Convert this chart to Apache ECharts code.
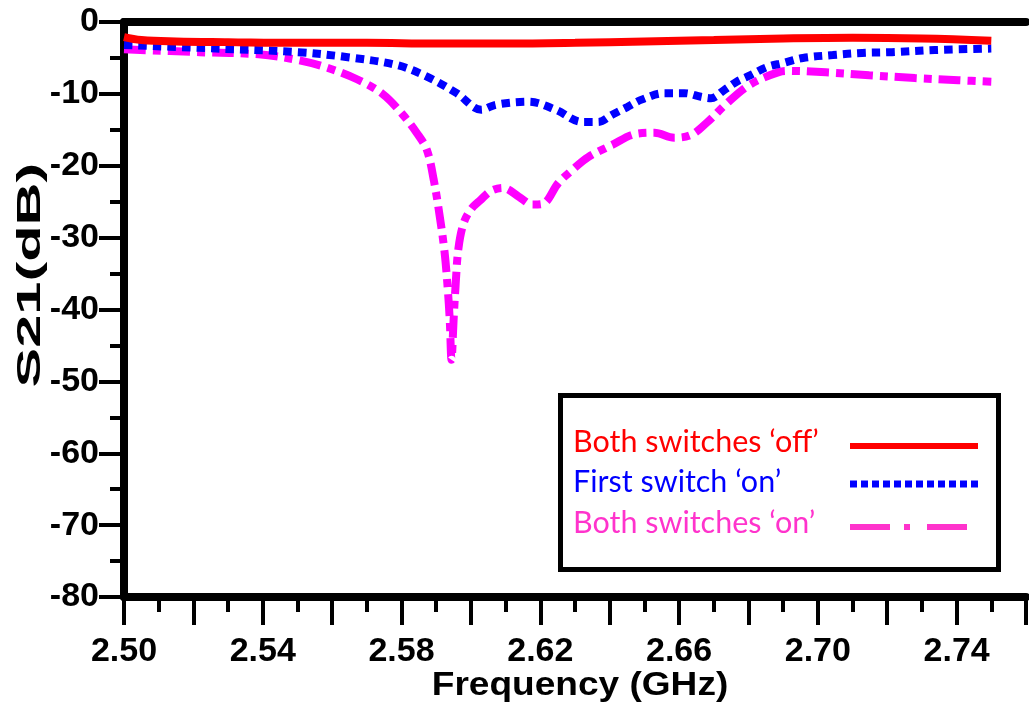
<!DOCTYPE html>
<html>
<head>
<meta charset="utf-8">
<script src="https://cdn.jsdelivr.net/npm/echarts@6/dist/echarts.min.js"></script>
<style>
  html, body { margin: 0; padding: 0; background: #ffffff; }
  #chart { width: 1029px; height: 713px; }
</style>
</head>
<body>
<div id="chart"></div>
<script>
// Measured transmission S21 (dB) versus frequency (GHz) for three switch states
const freqOff = [2.500, 2.505, 2.515, 2.530, 2.550, 2.570, 2.590, 2.610, 2.630, 2.650, 2.670, 2.690, 2.710, 2.730, 2.750];
const s21Off  = [-2.1, -2.5, -2.7, -2.8, -2.9, -2.9, -3.0, -3.0, -2.9, -2.7, -2.5, -2.3, -2.2, -2.3, -2.6];

const freqFirst = [2.5000, 2.5217, 2.5502, 2.5645, 2.5787, 2.5873, 2.5959, 2.6030, 2.6073, 2.6167,
                   2.6244, 2.6321, 2.6367, 2.6407, 2.6452, 2.6492, 2.6558, 2.6615, 2.6663, 2.6692,
                   2.6729, 2.6766, 2.6806, 2.6852, 2.6900, 2.6957, 2.7043, 2.7128, 2.7214, 2.7337, 2.7500];
const s21First  = [-3.2, -3.6, -4.2, -4.9, -6.0, -7.6, -9.9, -12.2, -11.5, -11.1,
                   -12.2, -13.9, -13.9, -12.9, -11.8, -10.8, -9.9, -9.9, -10.4, -10.6,
                   -9.5, -8.3, -7.4, -6.3, -5.7, -5.0, -4.6, -4.3, -4.2, -3.9, -3.7];

const freqBoth = [2.5000, 2.5217, 2.5388, 2.5502, 2.5588, 2.5673, 2.5745, 2.5802, 2.5845, 2.5873,
                  2.5893, 2.5910, 2.5924, 2.5933, 2.5939, 2.5944, 2.5950, 2.5956, 2.5964, 2.5979,
                  2.6001, 2.6027, 2.6058, 2.6093, 2.6138, 2.6178, 2.6207, 2.6252, 2.6292, 2.6338,
                  2.6407, 2.6472, 2.6529, 2.6586, 2.6635, 2.6680, 2.6738, 2.6795, 2.6852, 2.6909,
                  2.7023, 2.7148, 2.7280, 2.7405, 2.7500];
const s21Both  = [-3.8, -4.2, -4.5, -5.3, -6.4, -8.0, -10.0, -12.8, -15.5, -17.8,
                  -22.0, -27.0, -32.0, -37.0, -41.5, -47.0, -41.5, -36.5, -31.5, -28.0,
                  -26.0, -24.8, -23.5, -23.1, -24.3, -25.4, -25.3, -22.4, -20.6, -18.8,
                  -17.1, -15.6, -15.4, -16.1, -15.7, -14.0, -11.3, -9.0, -7.6, -6.8,
                  -7.0, -7.4, -7.8, -8.1, -8.3];

const seriesNames = ['Both switches \u2018off\u2019', 'First switch \u2018on\u2019', 'Both switches \u2018on\u2019'];
const xTickLabels = ['2.50', '2.54', '2.58', '2.62', '2.66', '2.70', '2.74'];
const yTickLabels = ['0', '-10', '-20', '-30', '-40', '-50', '-60', '-70', '-80'];
const xTitle = 'Frequency (GHz)';
const yTitle = 'S21(dB)';

const pairs = (xs, ys) => xs.map((x, i) => [x, ys[i]]);

const axisFont = { fontFamily: 'Liberation Sans', fontWeight: 'bold', fontSize: 34, color: '#000' };
const spine = { show: true, lineStyle: { color: '#000', width: 8 } };

const chart = echarts.init(document.getElementById('chart'), null, { renderer: 'canvas' });

chart.setOption({
  animation: false,
  backgroundColor: '#ffffff',
  grid: { left: 124, right: -6, top: 22, bottom: 116, containLabel: false },
  xAxis: [
    {
      type: 'value', min: 2.50, max: 2.76, interval: 0.02, position: 'bottom',
      axisLine: { ...spine, onZero: false },
      axisTick: { show: true, length: 28, lineStyle: { color: '#000', width: 4 } },
      minorTick: { show: true, splitNumber: 2, length: 15, lineStyle: { color: '#000', width: 4 } },
      splitLine: { show: false },
      axisLabel: {
        ...axisFont, margin: 38,
        formatter: v => { const s = v.toFixed(2); return xTickLabels.includes(s) ? s : ''; }
      }
    },
    {
      type: 'value', min: 2.50, max: 2.76, position: 'top',
      axisLine: { ...spine, onZero: false },
      axisTick: { show: false }, axisLabel: { show: false }, splitLine: { show: false }
    }
  ],
  yAxis: {
    type: 'value', min: -80, max: 0, interval: 10,
    axisLine: { ...spine, onZero: false },
    axisTick: { show: true, length: 25, lineStyle: { color: '#000', width: 4 } },
    minorTick: { show: true, splitNumber: 2, length: 14, lineStyle: { color: '#000', width: 4 } },
    splitLine: { show: false },
    axisLabel: {
      ...axisFont, margin: 25,
      formatter: v => { const s = String(Math.round(v)); return yTickLabels.includes(s) ? s : ''; }
    }
  },
  series: [
    {
      name: seriesNames[2], type: 'line', data: pairs(freqBoth, s21Both),
      showSymbol: false, smooth: 0.35, z: 2,
      lineStyle: { color: '#ff00ff', width: 8, type: [22, 7, 8, 7], cap: 'butt' }
    },
    {
      name: seriesNames[1], type: 'line', data: pairs(freqFirst, s21First),
      showSymbol: false, smooth: 0.35, z: 3,
      lineStyle: { color: '#0000ff', width: 8, type: [8.5, 6], cap: 'butt' }
    },
    {
      name: seriesNames[0], type: 'line', data: pairs(freqOff, s21Off),
      showSymbol: false, smooth: 0.4, z: 4,
      lineStyle: { color: '#ff0000', width: 8, type: 'solid' }
    }
  ],
  graphic: [
    // axis titles
    {
      type: 'text', x: 580, y: 686, z: 100, scaleX: 1.09,
      style: { text: xTitle, fill: '#000', fontFamily: 'Liberation Sans', fontWeight: 'bold', fontSize: 34,
               align: 'center', verticalAlign: 'middle' }
    },
    {
      type: 'text', x: 31, y: 275, rotation: Math.PI / 2, scaleX: 1.75, z: 100,
      style: { text: yTitle, fill: '#000', fontFamily: 'Liberation Sans', fontWeight: 'bold', fontSize: 34,
               align: 'center', verticalAlign: 'middle' }
    },
    // legend box
    {
      type: 'rect', z: 100,
      shape: { x: 560.5, y: 395.5, width: 438, height: 174 },
      style: { fill: '#ffffff', stroke: '#000', lineWidth: 5 }
    },
    {
      type: 'text', x: 573, y: 442, z: 101,
      style: { text: seriesNames[0], fill: '#ff0000', fontFamily: 'Lato', fontSize: 30.5, verticalAlign: 'middle' }
    },
    {
      type: 'text', x: 573, y: 482, z: 101,
      style: { text: seriesNames[1], fill: '#0000ff', fontFamily: 'Lato', fontSize: 30.5, verticalAlign: 'middle' }
    },
    {
      type: 'text', x: 573, y: 523, z: 101,
      style: { text: seriesNames[2], fill: '#ff33cc', fontFamily: 'Lato', fontSize: 30.5, verticalAlign: 'middle' }
    },
    {
      type: 'line', z: 101, shape: { x1: 850, y1: 446, x2: 978, y2: 446 },
      style: { stroke: '#ff0000', lineWidth: 6 }
    },
    {
      type: 'line', z: 101, shape: { x1: 850, y1: 484, x2: 978, y2: 484 },
      style: { stroke: '#0000ff', lineWidth: 7, lineDash: [7, 4] }
    },
    {
      type: 'line', z: 101, shape: { x1: 850, y1: 527, x2: 967, y2: 527 },
      style: { stroke: '#ff33cc', lineWidth: 6, lineDash: [40, 14, 6, 17] }
    }
  ]
});
</script>
</body>
</html>
